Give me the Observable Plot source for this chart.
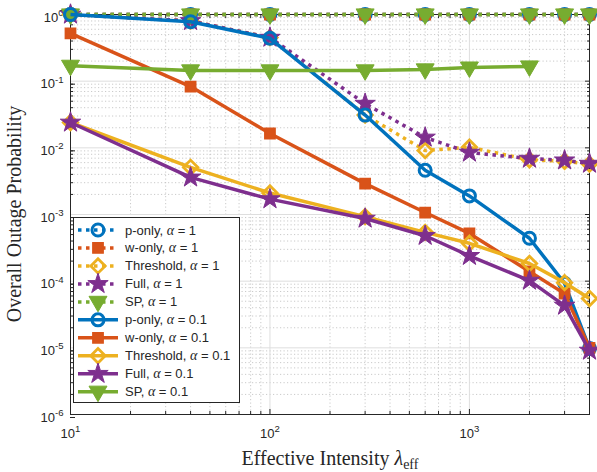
<!DOCTYPE html>
<html><head><meta charset="utf-8">
<script src="https://cdn.jsdelivr.net/npm/d3@7"></script>
<script src="https://cdn.jsdelivr.net/npm/@observablehq/plot@0.6"></script>
<style>body{margin:0;background:#fff}</style>
</head><body><div id="chart"></div>
<script>
// ---- data ----
const lambdas = [10, 40, 100, 300, 600, 1000, 2000, 3000, 4000];
const spLambdas = [10, 40, 100, 300, 600, 1000, 2000];
const pOnlyA1 = [1, 1, 1, 1, 1, 1, 1, 1, 1];
const wOnlyA1 = [1, 1, 1, 1, 1, 1, 1, 1, 1];
const thresholdA1 = [1, 0.80, 0.45, 0.031, 0.0091, 0.0102, 0.0066, 0.0063, 0.0057];
const fullA1 = [1, 0.80, 0.45, 0.046, 0.0143, 0.0085, 0.0069, 0.0065, 0.0058];
const spA1 = [1, 1, 1, 1, 1, 1, 1, 1, 1];
const pOnlyA01 = [1.0, 0.78, 0.44, 0.031, 0.0046, 0.0019, 0.00044, 0.000093, 0.0000098];
const wOnlyA01 = [0.52, 0.083, 0.0164, 0.0029, 0.00107, 0.00052, 0.000140, 0.000065, 0.0000100];
const thresholdA01 = [0.024, 0.0051, 0.0021, 0.00093, 0.00054, 0.00037, 0.000184, 0.000095, 0.000055];
const fullA01 = [0.024, 0.0036, 0.0017, 0.00087, 0.00048, 0.00024, 0.000102, 0.000043, 0.0000091];
const spA01 = [0.17, 0.145, 0.145, 0.145, 0.15, 0.16, 0.166];
const seriesNames = ["p-only", "w-only", "Threshold", "Full", "SP"];
const alphaLabels = ["1", "0.1"];
const majorX = [10, 100, 1000];
const majorY = [1e-6, 1e-5, 1e-4, 1e-3, 1e-2, 1e-1, 1];

// ---- styles ----
const colors = {"p-only": "#0072BD", "w-only": "#D95319", "Threshold": "#EDB120", "Full": "#7E2F8E", "SP": "#77AC30"};
const triDown = {draw(ctx, size) { const R = Math.sqrt(size / Math.PI); ctx.moveTo(-R, -0.62 * R); ctx.lineTo(R, -0.62 * R); ctx.lineTo(0, 1.1 * R); ctx.closePath(); }};
const diamondM = {draw(ctx, size) { const R = Math.sqrt(size / Math.PI); ctx.moveTo(0, -R); ctx.lineTo(R, 0); ctx.lineTo(0, R); ctx.lineTo(-R, 0); ctx.closePath(); }};
const markerStyle = {
  "p-only": {symbol: "circle", r: 6, fill: "none", strokeWidth: 3},
  "w-only": {symbol: "square", r: 5.8, fill: colors["w-only"], strokeWidth: 1.5},
  "Threshold": {symbol: diamondM, r: 7.2, fill: "none", strokeWidth: 2.8},
  "Full": {symbol: "star", r: 6.4, fill: colors["Full"], strokeWidth: 1},
  "SP": {symbol: triDown, r: 9, fill: colors["SP"], strokeWidth: 1}
};

const series = [
  {name: "p-only", alpha: "1", xs: lambdas, ys: pOnlyA1},
  {name: "w-only", alpha: "1", xs: lambdas, ys: wOnlyA1},
  {name: "Threshold", alpha: "1", xs: lambdas, ys: thresholdA1},
  {name: "Full", alpha: "1", xs: lambdas, ys: fullA1},
  {name: "SP", alpha: "1", xs: lambdas, ys: spA1},
  {name: "p-only", alpha: "0.1", xs: lambdas, ys: pOnlyA01},
  {name: "w-only", alpha: "0.1", xs: lambdas, ys: wOnlyA01},
  {name: "Threshold", alpha: "0.1", xs: lambdas, ys: thresholdA01},
  {name: "Full", alpha: "0.1", xs: lambdas, ys: fullA01},
  {name: "SP", alpha: "0.1", xs: spLambdas, ys: spA01}
];

const minorX = [];
for (const d of [10, 100, 1000]) for (let k = 2; k <= 9; k++) if (d * k < 4000) minorX.push(d * k);
const minorY = [];
for (let e = -6; e < 0; e++) for (let k = 2; k <= 9; k++) minorY.push(k * Math.pow(10, e));

const axisColor = "#262626";
const marks = [
  Plot.ruleY(minorY, {y: d => d, stroke: "#bdbdbd", strokeWidth: 0.8, strokeDasharray: "1.2,2.3"}),
  Plot.ruleX(minorX, {x: d => d, stroke: "#bdbdbd", strokeWidth: 0.8, strokeDasharray: "1.2,2.3"}),
  Plot.ruleY(majorY, {y: d => d, stroke: "#dedede", strokeWidth: 1}),
  Plot.ruleX(majorX, {x: d => d, stroke: "#dedede", strokeWidth: 1}),
  Plot.frame({stroke: axisColor, strokeWidth: 1}),
  Plot.axisY({ticks: majorY, tickSize: -5, tickPadding: 12, dy: 3, label: null, stroke: axisColor, fill: axisColor,
    tickFormat: d => "10^" + Math.round(Math.log10(d))}),
  Plot.axisY({anchor: "right", ticks: majorY, tickSize: -5, label: null, stroke: axisColor, tickFormat: () => ""}),
  Plot.axisY({ticks: minorY, tickSize: -3, label: null, stroke: axisColor, tickFormat: () => ""}),
  Plot.axisY({anchor: "right", ticks: minorY, tickSize: -3, label: null, stroke: axisColor, tickFormat: () => ""}),
  Plot.axisX({ticks: majorX, tickSize: -5, tickPadding: 19, label: null, stroke: axisColor, fill: axisColor,
    tickFormat: d => "10^" + Math.round(Math.log10(d))}),
  Plot.axisX({anchor: "top", ticks: majorX, tickSize: -5, label: null, stroke: axisColor, tickFormat: () => ""}),
  Plot.axisX({ticks: minorX, tickSize: -3, label: null, stroke: axisColor, tickFormat: () => ""}),
  Plot.axisX({anchor: "top", ticks: minorX, tickSize: -3, label: null, stroke: axisColor, tickFormat: () => ""})
];

for (const s of series) {
  const rows = s.xs.map((x, i) => ({lambda: x, p: s.ys[i]}));
  const c = colors[s.name];
  const dotted = s.alpha === "1";
  const m = markerStyle[s.name];
  marks.push(Plot.line(rows, {x: "lambda", y: "p", stroke: c, strokeWidth: 3.5,
    strokeDasharray: dotted ? "3.5,4.5" : null, strokeLinecap: "butt", strokeLinejoin: "round"}));
  marks.push(Plot.dot(rows, {x: "lambda", y: "p", symbol: m.symbol, r: m.r, stroke: c,
    fill: m.fill, strokeWidth: m.strokeWidth}));
}

const W = 597, H = 472;
const svg = Plot.plot({
  width: W, height: H,
  marginLeft: 70, marginRight: 8, marginTop: 14, marginBottom: 58,
  style: {fontFamily: "'Liberation Sans', Arial, sans-serif", fontSize: "13px", color: axisColor, background: "#fff"},
  x: {type: "log", domain: [10, 4000], label: null},
  y: {type: "log", domain: [1e-6, 1], label: null},
  marks
});
document.getElementById("chart").appendChild(svg);

// superscript exponents in tick labels
d3.select(svg).selectAll("g[aria-label$='tick label'] text").each(function () {
  const t = this.textContent;
  const mm = t.match(/^10\^(-?\d+)$/);
  if (!mm) return;
  const sel = d3.select(this);
  sel.selectAll("*").remove();
  sel.text("10");
  sel.append("tspan").attr("dy", "-0.6em").attr("font-size", "0.74em").text(mm[1]);
});

const root = d3.select(svg);
// axis titles
const serif = "'Liberation Serif', 'DejaVu Serif', serif";
root.append("text").attr("transform", "translate(21,214) rotate(-90)").attr("text-anchor", "middle")
  .attr("font-family", serif).attr("font-size", 20).attr("fill", axisColor).text("Overall Outage Probability");
const xt = root.append("text").attr("x", 330).attr("y", 465).attr("text-anchor", "middle")
  .attr("font-family", serif).attr("font-size", 20).attr("fill", axisColor);
xt.append("tspan").text("Effective Intensity ");
xt.append("tspan").attr("font-style", "italic").text("λ");
xt.append("tspan").attr("dy", 4).attr("font-size", 14).text("eff");

// legend
const lg = root.append("g");
lg.append("rect").attr("x", 73.5).attr("y", 217.5).attr("width", 166).attr("height", 185)
  .attr("fill", "#fff").attr("stroke", axisColor).attr("stroke-width", 1);
series.forEach((s, i) => {
  const y = 230 + i * 17.97;
  const c = colors[s.name];
  const m = markerStyle[s.name];
  lg.append("line").attr("x1", 78).attr("x2", 118).attr("y1", y).attr("y2", y)
    .attr("stroke", c).attr("stroke-width", 3.5).attr("stroke-dasharray", s.alpha === "1" ? "3.5,4.5" : null);
  const sym = typeof m.symbol === "string" ? {circle: d3.symbolCircle, square: d3.symbolSquare, star: d3.symbolStar}[m.symbol] : m.symbol;
  lg.append("path").attr("d", d3.symbol(sym, Math.PI * m.r * m.r)()).attr("transform", `translate(98,${y})`)
    .attr("fill", m.fill).attr("stroke", c).attr("stroke-width", m.strokeWidth);
  const tx = lg.append("text").attr("x", 125).attr("y", y + 4.5).attr("font-size", 13).attr("fill", axisColor)
    .attr("text-anchor", "start").attr("font-family", "'Liberation Sans', Arial, sans-serif");
  tx.append("tspan").text(s.name + ", ");
  tx.append("tspan").attr("font-family", serif).attr("font-style", "italic").attr("font-size", 14).text("α");
  tx.append("tspan").text(" = " + s.alpha);
});
</script>
</body></html>
